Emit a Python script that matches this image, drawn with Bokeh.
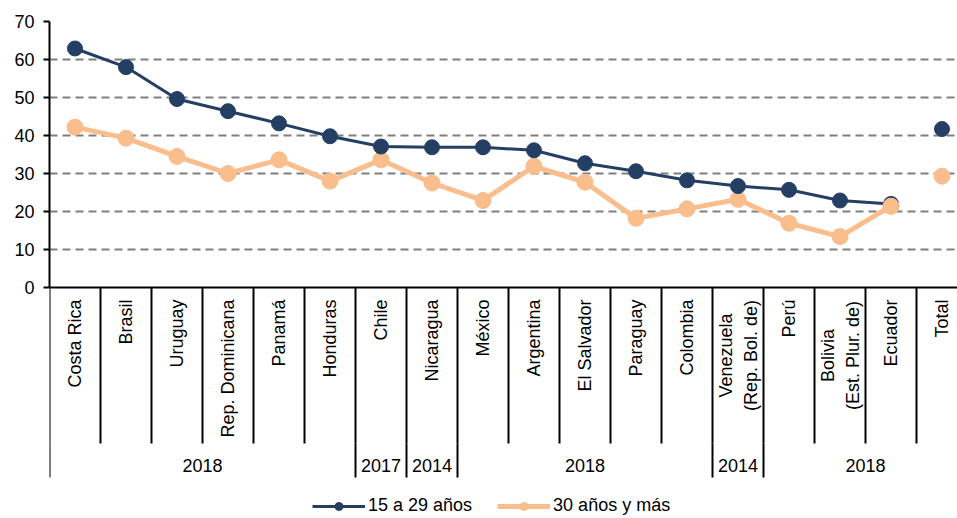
import math
from bokeh.plotting import figure
from bokeh.models import (ColumnDataSource, Range1d, FixedTicker, Span, Legend, LegendItem)
from bokeh.core.properties import value
from bokeh.embed import file_html
from bokeh.resources import INLINE

# ---------------- data ----------------
categories = ["Costa Rica", "Brasil", "Uruguay", "Rep. Dominicana", "Panamá", "Honduras",
              "Chile", "Nicaragua", "México", "Argentina", "El Salvador", "Paraguay",
              "Colombia", "Venezuela\n(Rep. Bol. de)", "Perú", "Bolivia\n(Est. Plur. de)",
              "Ecuador", "Total"]
serie_15_29 = [62.9, 58.0, 49.6, 46.4, 43.2, 39.8, 37.1, 36.9, 36.9, 36.1, 32.7, 30.6,
               28.2, 26.7, 25.7, 22.9, 22.0, 41.7]
serie_30_mas = [42.2, 39.3, 34.5, 30.0, 33.6, 28.0, 33.6, 27.5, 22.9, 31.9, 27.7, 18.2,
                20.7, 23.2, 16.9, 13.4, 21.4, 29.3]
year_labels = ["2018", "2017", "2014", "2018", "2014", "2018"]
year_group_sizes = [6, 1, 1, 5, 1, 4]
y_ticks = [0, 10, 20, 30, 40, 50, 60, 70]
series_names = ["15 a 29 años", "30 años y más"]

# ---------------- layout constants ----------------
NAVY = "#243F63"
ORANGE = "#F9BE8C"
FONT = "Liberation Sans"
FS = "18px"
W, H = 957, 518
TOP, LEFT = 21, 49
FRAME_H = H - TOP
PX = 3.8                       # pixels per unit on y
CAT_PX = 51.0                  # pixels per category
FRAME_W = W - LEFT
y_bottom = 70 - FRAME_H / PX

def px_down(p):               # data y for p pixels below zero line
    return -p / PX

p = figure(width=W, height=H, output_backend="svg", toolbar_location=None,
           x_range=Range1d(0, FRAME_W / CAT_PX), y_range=Range1d(y_bottom, 70),
           x_axis_type=None, min_border_left=LEFT, min_border_top=TOP,
           min_border_bottom=0, min_border_right=0)
p.outline_line_color = None
p.background_fill_color = "white"
p.border_fill_color = "white"

# y axis
yax = p.yaxis[0]
yax.ticker = FixedTicker(ticks=y_ticks)
yax.bounds = (0, 70)
yax.axis_line_color = "black"
yax.axis_line_width = 2
yax.major_tick_out = 6
yax.major_tick_in = 0
yax.major_tick_line_color = "black"
yax.major_tick_line_width = 2
yax.minor_tick_line_color = None
yax.major_label_standoff = 9
yax.major_label_text_font = FONT
yax.major_label_text_font_size = FS
yax.major_label_text_color = "black"

p.xgrid.visible = False
p.ygrid.ticker = FixedTicker(ticks=y_ticks[1:])
p.ygrid.bounds = (0, 70)
p.ygrid.grid_line_color = "#7F7F7F"
p.ygrid.grid_line_width = 2
p.ygrid.grid_line_dash = "8 5"

# x axis line
p.add_layout(Span(location=0, dimension="width", line_color="black", line_width=2))

n = len(categories)
xs = [i + 0.5 for i in range(n)]

# category separators
bounds = list(range(n + 1))
p.segment(x0=bounds, x1=bounds, y0=[0] * len(bounds), y1=[px_down(156)] * len(bounds),
          line_color="black", line_width=2)

# year group separators and labels
gb = [0]
for s in year_group_sizes:
    gb.append(gb[-1] + s)
gb_inner = gb[:-1]
p.segment(x0=gb_inner, x1=gb_inner, y0=[px_down(156)] * len(gb_inner),
          y1=[px_down(190)] * len(gb_inner), line_color="black", line_width=2)
g_centers = [(gb[i] + gb[i + 1]) / 2 for i in range(len(year_labels))]
p.text(x=g_centers, y=[px_down(178)] * len(g_centers), text=year_labels,
       text_font=value(FONT), text_font_size=FS, text_align="center",
       text_baseline="middle", text_color="black")

# category labels
single = [i for i, c in enumerate(categories) if "\n" not in c]
multi = [i for i, c in enumerate(categories) if "\n" in c]
p.text(x=[xs[i] for i in single], y=[0] * len(single), text=[categories[i] for i in single],
       angle=math.pi / 2, y_offset=12, text_font=value(FONT), text_font_size=FS,
       text_align="right", text_baseline="middle", text_color="black")
p.text(x=[xs[i] for i in multi], y=[0] * len(multi), text=[categories[i] for i in multi],
       angle=math.pi / 2, y_offset=68, text_font=value(FONT), text_font_size=FS,
       text_align="center", text_baseline="middle", text_color="black",
       text_line_height=1.25)

# series
src_line = ColumnDataSource(dict(x=xs[:-1], a=serie_15_29[:-1], b=serie_30_mas[:-1]))
src_pts = ColumnDataSource(dict(x=xs, a=serie_15_29, b=serie_30_mas))

p.line("x", "b", source=src_line, line_color=ORANGE, line_width=5, line_join="round")
p.scatter("x", "b", source=src_pts, size=16, fill_color=ORANGE, line_color=ORANGE)
p.line("x", "a", source=src_line, line_color=NAVY, line_width=3)
p.scatter("x", "a", source=src_pts, size=15, fill_color=NAVY, line_color=NAVY)
# orange Ecuador marker drawn above the navy one, as in the original
p.scatter(x=[xs[-2]], y=[serie_30_mas[-2]], size=16, fill_color=ORANGE, line_color=ORANGE)

# legend proxies
nan = float("nan")
l1 = p.line([nan], [nan], line_color=NAVY, line_width=3)
s1 = p.scatter([nan], [nan], size=10, fill_color=NAVY, line_color=NAVY)
l2 = p.line([nan], [nan], line_color=ORANGE, line_width=5)
s2 = p.scatter([nan], [nan], size=10, fill_color=ORANGE, line_color=ORANGE)

legend = Legend(items=[LegendItem(label=series_names[0], renderers=[l1, s1]),
                       LegendItem(label=series_names[1], renderers=[l2, s2])],
                orientation="horizontal", location=(263, 2), padding=0, margin=0,
                border_line_color=None, background_fill_alpha=0,
                glyph_width=53, glyph_height=20, label_height=20, label_standoff=3,
                spacing=25, label_text_font=FONT, label_text_font_size=FS,
                label_text_color="black")
p.add_layout(legend)

open("out.html", "w").write(file_html(p, INLINE))
